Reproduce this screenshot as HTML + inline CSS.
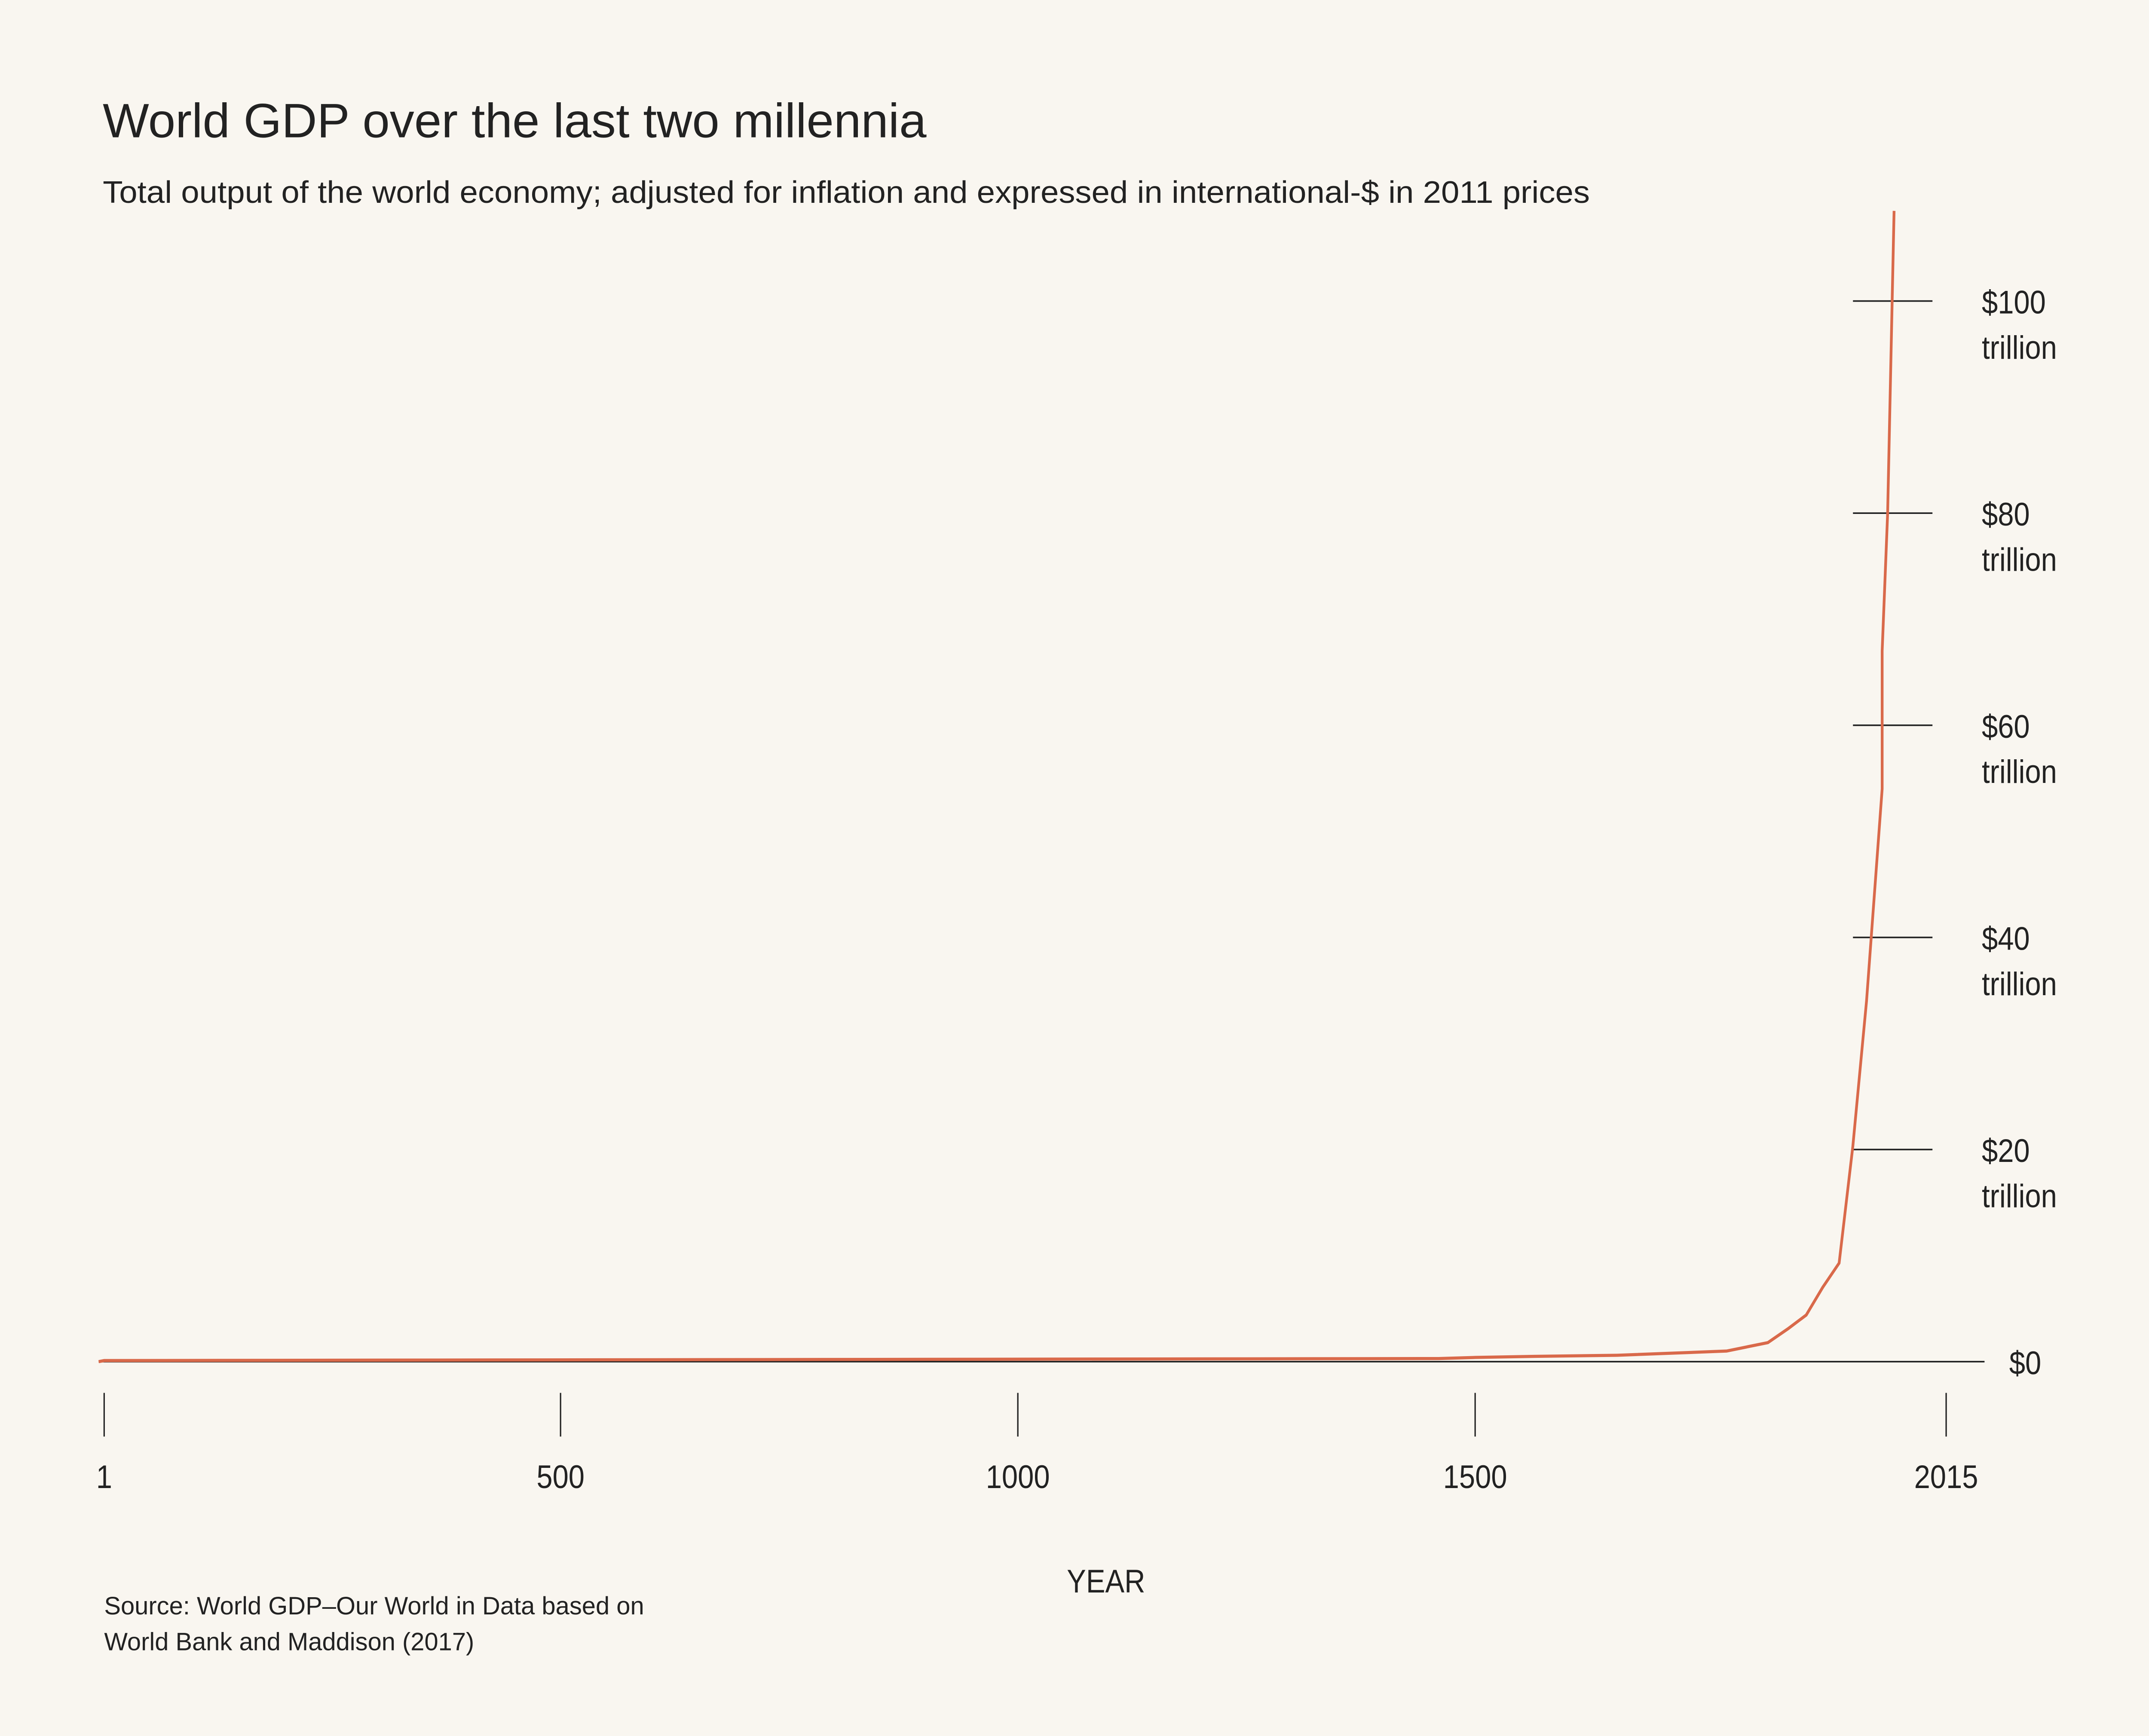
<!DOCTYPE html>
<html><head><meta charset="utf-8">
<style>
html,body{margin:0;padding:0;background:#f9f6f0;width:100%;height:100%;overflow:hidden;}
svg{display:block;position:absolute;left:0;top:0;width:100vw;height:100vh;font-family:"Liberation Sans",sans-serif;}
</style></head>
<body>
<svg viewBox="0 0 1568 1113" preserveAspectRatio="none" xmlns="http://www.w3.org/2000/svg">
<rect width="1568" height="1113" fill="#f9f6f0"/>
<text x="75" y="88" font-size="31" fill="#222" textLength="601" lengthAdjust="spacingAndGlyphs">World GDP over the last two millennia</text>
<text x="75" y="130" font-size="20" fill="#222" textLength="1085" lengthAdjust="spacingAndGlyphs">Total output of the world economy; adjusted for inflation and expressed in international-$ in 2011 prices</text>
<g id="axes"></g>
<path id="series" fill="none" stroke="#d9694a" stroke-width="2"/>
<text x="807" y="1021" font-size="21" text-anchor="middle" fill="#222">YEAR</text>
<text x="76" y="1035" font-size="16" fill="#222" textLength="394" lengthAdjust="spacingAndGlyphs">Source: World GDP–Our World in Data based on</text>
<text x="76" y="1058" font-size="16" fill="#222" textLength="270" lengthAdjust="spacingAndGlyphs">World Bank and Maddison (2017)</text>
</svg>
<script>
const years=[1,1460,1500,1565,1655,1775,1820,1842,1862,1880,1898,1913,1928,1945,1945,1951,1958];
const gdp=[0.1,0.3,0.4,0.5,0.6,1.0,1.8,3.1,4.4,7,9.3,20.3,34,54,67,80,108.5];
const xTicks=[1,500,1000,1500,2015];
const yTicks=[0,20,40,60,80,100];
const yTickLabels=["$0","$20|trillion","$40|trillion","$60|trillion","$80|trillion","$100|trillion"];
const NS="http://www.w3.org/2000/svg";
function xs(y){return 76+(y-1)*(1344/2014);}
function ys(v){return 873-v*6.8;}
const ax=document.getElementById('axes');
function mk(t,a){const e=document.createElementNS(NS,t);for(const k in a)e.setAttribute(k,a[k]);ax.appendChild(e);return e;}
const base=mk('line',{x1:72,x2:1448,y1:873,y2:873,stroke:'#222','stroke-width':1});


xTicks.forEach(t=>{
  const l=mk('line',{x1:xs(t),x2:xs(t),y1:893,y2:921,stroke:'#222','stroke-width':1});
  
  
  const tx=mk('text',{x:xs(t),y:954,'font-size':21,'text-anchor':'middle',fill:'#222'});
  tx.textContent=t;
  
  
});
yTicks.forEach((t,i)=>{
  const parts=yTickLabels[i].split('|');
  if(t!==0){
    const l=mk('line',{x1:1352,x2:1410,y1:ys(t),y2:ys(t),stroke:'#222','stroke-width':1});
    
    
  }
  const tx=mk('text',{x:t===0?1466:1446,y:ys(t)+8,'font-size':21,fill:'#222'});
  
  
  parts.forEach((p,j)=>{const s=document.createElementNS(NS,'tspan');s.setAttribute('x',t===0?1466:1446);s.setAttribute('dy',j?29:0);s.textContent=p;tx.appendChild(s);});
});
let d='M72,'+ys(0);
years.forEach((y,i)=>{d+=' L'+xs(y).toFixed(1)+','+ys(gdp[i]).toFixed(1);});
document.getElementById('series').setAttribute('d',d);
</script>
</body></html>
